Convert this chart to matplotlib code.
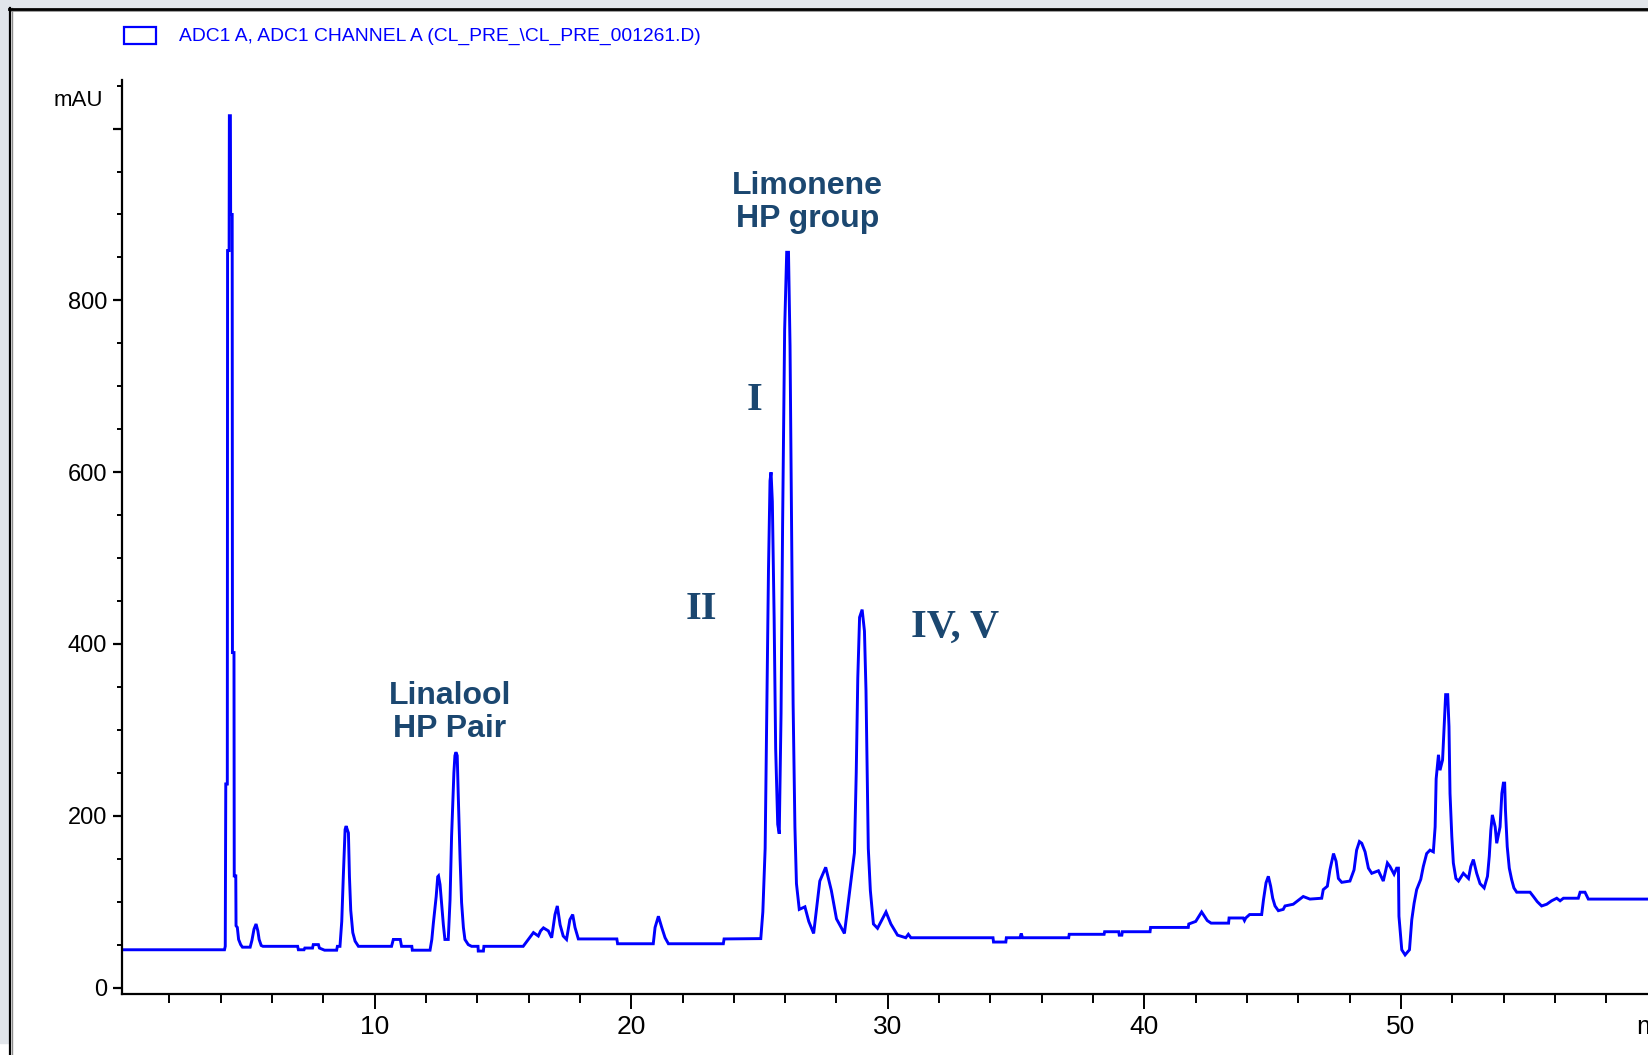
import matplotlib
matplotlib.use("Agg")
import matplotlib.pyplot as plt
from matplotlib import font_manager
from matplotlib.patches import Rectangle
from matplotlib.lines import Line2D

# chromatogram trace (minutes, mAU)
time_min = [
    0.0, 4.15, 4.18, 4.20, 4.26, 4.27, 4.33, 4.34, 4.38, 4.39, 4.45, 4.46, 4.52, 4.53, 4.59, 4.60,
    4.65, 4.70, 4.78, 4.85, 5.15, 5.22, 5.30, 5.38, 5.45, 5.50, 5.58, 5.65,
    7.00, 7.03, 7.25, 7.28, 7.58, 7.61, 7.81, 7.85, 8.05, 8.52, 8.55, 8.65,
    8.72, 8.78, 8.85, 8.89, 8.98, 9.02, 9.07, 9.15, 9.24, 9.37,
    10.66, 10.73, 11.00, 11.05, 11.45, 11.47, 12.16,
    12.23, 12.29, 12.40, 12.46, 12.49, 12.55, 12.61, 12.68, 12.74, 12.87, 12.94, 13.00, 13.09,
    13.13, 13.17, 13.22, 13.26, 13.33, 13.39, 13.46, 13.52, 13.65, 13.78,
    14.03, 14.04, 14.24, 14.26, 15.79, 15.99, 16.19, 16.38, 16.47, 16.58, 16.77, 16.90,
    17.03, 17.12, 17.23, 17.35, 17.48, 17.61, 17.72, 17.81, 17.94,
    19.44, 19.47, 20.86, 20.93, 21.06, 21.19, 21.32, 21.45, 23.59, 23.62,
    25.05, 25.13, 25.22, 25.28, 25.35, 25.41, 25.45, 25.50, 25.57, 25.63, 25.71, 25.77,
    25.84, 25.90, 25.98, 26.06, 26.13, 26.19, 26.25, 26.31, 26.38, 26.44, 26.55, 26.77,
    26.92, 27.11, 27.35, 27.58, 27.80, 28.00, 28.31, 28.70, 28.77, 28.83, 28.90, 29.00,
    29.09, 29.15, 29.24, 29.32, 29.44, 29.60, 29.93, 30.12, 30.38, 30.70,
    30.80, 30.90, 34.10, 34.12, 34.60, 34.62, 35.15, 35.20, 35.25, 37.05, 37.07, 38.43,
    38.45, 39.00, 39.02, 39.12, 39.14, 40.22, 40.24, 41.71, 41.73, 42.00, 42.23, 42.45,
    42.60, 43.28, 43.30, 43.85, 43.90, 43.95, 44.10,
    44.57, 44.64, 44.74, 44.83, 44.92, 45.00, 45.09, 45.22, 45.41, 45.48, 45.80, 46.19,
    46.45, 46.91, 46.97, 47.13, 47.23, 47.37, 47.47, 47.56, 47.69, 48.01, 48.17, 48.27,
    48.38, 48.47, 48.60, 48.73, 48.86, 49.12, 49.31, 49.47, 49.57, 49.73, 49.83, 49.90,
    49.92, 50.03, 50.16, 50.33, 50.42, 50.51, 50.61, 50.77, 50.87, 51.00, 51.13, 51.26,
    51.33, 51.37, 51.46, 51.52, 51.62, 51.68, 51.74, 51.82, 51.87, 51.91, 51.98, 52.04,
    52.14, 52.24, 52.43, 52.63, 52.72, 52.82, 52.95, 53.08, 53.24, 53.37, 53.44, 53.50,
    53.56, 53.67, 53.73, 53.86, 53.93, 53.99, 54.04, 54.07, 54.14, 54.22, 54.31, 54.40,
    54.51, 55.03, 55.16, 55.31, 55.48, 55.68, 55.87, 56.07, 56.20, 56.33, 56.91, 56.98,
    57.17, 57.30, 60.0,
]
signal_mau = [
    44, 44, 48, 237, 237, 858, 858, 1015, 1015, 900, 900, 390, 390, 130, 130, 72,
    70, 56, 50, 47, 47, 55, 68, 74, 66, 56, 49, 48,
    48, 44, 44, 46, 46, 50, 50, 46, 43.5, 43.5, 48, 48,
    77, 129, 184, 188, 180, 129, 90, 64, 54, 48,
    48, 56, 56, 48, 48, 43.5, 43.5,
    56, 75, 106, 129, 130, 120, 99, 73, 56, 56, 102, 176, 250,
    270, 274, 270, 224, 151, 99, 70, 56, 50, 48,
    48, 42.5, 42.5, 48, 48, 56, 64, 60, 66, 69.5, 66, 58,
    85, 95, 73, 60, 56, 79, 85, 70, 56.6,
    56.6, 51, 51, 70, 83, 70, 58, 51, 51, 56.6,
    57, 88, 162, 308, 486, 590, 600, 566, 431, 278, 190, 179,
    319, 538, 766, 856, 856, 747, 541, 330, 187, 121, 91, 94,
    77, 63, 124, 140, 113, 80, 63, 157, 250, 360, 431, 440,
    415, 346, 162, 113, 74, 69, 88, 74, 61, 58,
    62, 58, 58, 53, 53, 58, 58, 63, 58, 58, 62, 62,
    65, 65, 61, 61, 65, 65, 70, 70, 74, 77, 88, 78,
    75, 75, 81, 81, 78, 81, 85,
    85, 102, 122, 129.5, 118, 104, 95, 89.5, 91, 95, 97, 106,
    103, 104, 114, 118, 137, 156, 147, 127, 122.5, 124, 137, 160,
    170, 168, 158, 139, 133, 136, 124, 145, 141, 132, 139, 139,
    83, 44, 38, 44, 79, 98, 114, 126, 141, 156, 160, 158,
    187, 243, 271, 253, 265, 304, 341, 341, 304, 226, 176, 145,
    127, 124, 133, 127, 141, 149, 133, 121, 116, 129.5, 153, 183,
    201, 187, 168, 187, 226, 238, 238, 207, 164, 139, 126, 116,
    111, 111, 106, 100, 95, 97, 101, 104, 101, 104, 104, 111,
    111, 103, 103,
]

x_major = [10, 20, 30, 40, 50, 60]
x_major_labels = ["10", "20", "30", "40", "50", "min"]
y_major = [0, 200, 400, 600, 800, 1000]
y_major_labels = ["0", "200", "400", "600", "800", ""]

legend_text = "ADC1 A, ADC1 CHANNEL A (CL_PRE_\\CL_PRE_001261.D)"

W, H = 1649, 1055
installed = {f.name for f in font_manager.fontManager.ttflist}
if "Liberation Sans Narrow" in installed:
    narrow = ["Liberation Sans Narrow", "DejaVu Sans"]
else:
    narrow = ["Liberation Sans", "DejaVu Sans"]
note_col = "#1B4770"

fig = plt.figure(figsize=(W / 100, H / 100), dpi=100)
fig.patch.set_facecolor("white")


def fx(px):
    return px / W


def fy(py):
    return 1 - py / H


# window frame: grey margin, black edge with a little shadow
gray = "#E1E5EA"
fig.add_artist(Rectangle((0, fy(7)), 1, 7 / H, transform=fig.transFigure, color=gray, zorder=0))
fig.add_artist(Rectangle((0, fy(1043)), fx(10), 1043 / H, transform=fig.transFigure, color=gray, zorder=0))
fig.add_artist(Line2D([fx(10), 1], [fy(11), fy(11)], transform=fig.transFigure, color="#8c8c8c", lw=1.2))
fig.add_artist(Line2D([fx(12.5), fx(12.5)], [fy(8), 0], transform=fig.transFigure, color="#8c8c8c", lw=1.0))
fig.add_artist(Line2D([fx(9), 1], [fy(8.5), fy(8.5)], transform=fig.transFigure, color="black", lw=2.0))
fig.add_artist(Line2D([fx(10.5), fx(10.5)], [fy(7.5), 0], transform=fig.transFigure, color="black", lw=1.6))

# plot area: x from 0.15 to 60 min, y from -7.5 to 1056 mAU
x0_px, px_per_min, t_left = 118, 25.66, 0.15
y_bot_px, y_top_px = 994, 80.5
ax = fig.add_axes([fx(x0_px + t_left * px_per_min), fy(y_bot_px),
                   (60 - t_left) * px_per_min / W, (y_bot_px - y_top_px) / H])
ax.set_facecolor("none")
ax.plot(time_min, signal_mau, color="#0000FF", lw=2.1, solid_joinstyle="miter")
ax.set_xlim(t_left, 60)
ax.set_ylim(-7.5, 1056)

for s in ["top", "right"]:
    ax.spines[s].set_visible(False)
for s in ["left", "bottom"]:
    ax.spines[s].set_linewidth(1.6)
    ax.spines[s].set_color("black")

ax.set_xticks(x_major)
ax.set_xticklabels(x_major_labels)
ax.set_xticks([t for t in range(2, 60, 2) if t % 10], minor=True)
ax.set_yticks(y_major)
ax.set_yticklabels(y_major_labels)
ax.set_yticks([v for v in range(50, 1051, 50) if v % 200], minor=True)

ax.tick_params(axis="x", which="major", length=11, width=1.4, pad=4, labelsize=19)
ax.tick_params(axis="x", which="minor", length=6.5, width=1.4)
ax.tick_params(axis="y", which="major", length=6.5, width=1.6, pad=4, labelsize=17)
ax.tick_params(axis="y", which="minor", length=3.5, width=1.4)
for lab in ax.get_xticklabels() + ax.get_yticklabels():
    lab.set_family(narrow)

ax.text(-0.6, 1033, "mAU", ha="right", va="center", fontsize=16, family=narrow)

# legend line at the top
fig.add_artist(Rectangle((fx(124), fy(44)), fx(156) - fx(124), 17 / H, transform=fig.transFigure,
                         fill=False, edgecolor="#0000FF", lw=1.6))
leg = fig.text(fx(179), fy(36), legend_text, ha="left", va="center", color="#0000FF",
               fontsize=18, family=narrow)

# peak notes
bold_sans = dict(color=note_col, fontsize=23, fontweight="bold", family="Liberation Sans",
                 ha="center", va="center", linespacing=1.15)
ax.text(26.88, 914, "Limonene\nHP group", **bold_sans)
ax.text(12.94, 320, "Linalool\nHP Pair", **bold_sans)
roman = dict(color=note_col, fontsize=29, fontweight="bold", family="Liberation Serif",
             ha="center", va="center")
ax.text(24.79, 683, "I", **roman)
ax.text(22.74, 440, "II", **roman)
ax.text(32.62, 419, "IV, V", **roman)

fig.canvas.draw()
w = leg.get_window_extent().width
leg.set_fontsize(leg.get_fontsize() * 521 / w)

fig.savefig("out.png", dpi=100, facecolor=fig.get_facecolor())
